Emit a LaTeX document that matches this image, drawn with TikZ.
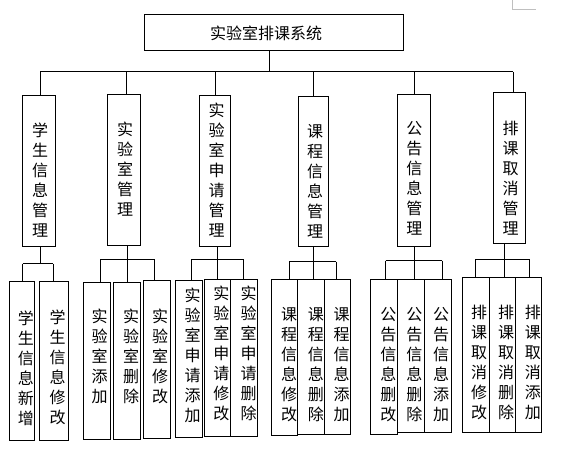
\documentclass[tikz,border=0pt]{standalone}
\usepackage{fontspec}
\newfontfamily\cjk{Noto Sans CJK SC}
\usetikzlibrary{fit}
\tikzset{
  box/.style={draw=black, line width=1pt, inner sep=0pt, fill=white},
  vt/.style={align=center, inner sep=0pt, font=\cjk\fontsize{16}{20}\selectfont},
  ln/.style={draw=black, line width=1pt},
}
\begin{document}
\begin{tikzpicture}[x=1pt,y=-1pt]
\useasboundingbox (0,0) rectangle (562,454);
\fill[white] (0,0) rectangle (562,454);
% page corner mark
\draw[black!25, line width=0.8pt] (512.3,0) -- (512.3,9) -- (535.7,9);

% root
\node[box, fit={(144.3,14.3)(403.3,50.3)}] (root) {};
\node[vt] (troot) at (266,33) {实验室排课系统};

% level 2 boxes
\node[box, fit={(22.3,95.7)(55.3,247)}] (b1) {};
\node[box, fit={(107.3,94.3)(140.3,245.3)}] (b2) {};
\node[box, fit={(199.3,95.7)(230.3,246.3)}] (b3) {};
\node[box, fit={(298.3,96.7)(328.3,246.7)}] (b4) {};
\node[box, fit={(397.3,94.3)(430.3,246.7)}] (b5) {};
\node[box, fit={(493.3,92.3)(525.3,243.3)}] (b6) {};
\node[vt] (tb1) at (40,180) {学\\生\\信\\息\\管\\理};
\node[vt] (tb2) at (125,169.5) {实\\验\\室\\管\\理};
\node[vt] (tb3) at (216.5,170) {实\\验\\室\\申\\请\\管\\理};
\node[vt] (tb4) at (315,181) {课\\程\\信\\息\\管\\理};
\node[vt] (tb5) at (414.3,178) {公\\告\\信\\息\\管\\理};
\node[vt] (tb6) at (510.5,178) {排\\课\\取\\消\\管\\理};

% level 1 connectors
\coordinate (j0) at (269.3,72);
\coordinate (busL) at (40.3,72);
\coordinate (busR) at (513.3,72);
\coordinate (d1) at (40.3,72);
\coordinate (d2) at (126.3,72);
\coordinate (d3) at (215.3,72);
\coordinate (d4) at (313.3,72);
\coordinate (d5) at (414.3,72);
\coordinate (d6) at (513.3,72);
\draw[ln] (root.south -| j0) -- (j0);
\draw[ln] (busL) -- (busR);
\foreach \i in {1,...,6} {\draw[ln] (d\i) -- (d\i |- b\i.north);}

% level 3 boxes
\node[box, fit={(9.3,281.7)(34.3,440)}] (c11) {};
\node[box, fit={(39.3,281.7)(68.3,440)}] (c12) {};
\node[box, fit={(83.3,282.7)(110.3,439)}] (c21) {};
\node[box, fit={(113.3,282.7)(140.3,439)}] (c22) {};
\node[box, fit={(143.3,280.7)(170.3,438.3)}] (c23) {};
\node[box, fit={(175.3,280.7)(202.3,437.3)}] (c31) {};
\node[box, fit={(204.3,279.3)(230.7,436)}] (c32) {};
\node[box, fit={(230.7,279.3)(257.3,436)}] (c33) {};
\node[box, fit={(271.7,279.3)(297.3,435)}] (c41) {};
\node[box, fit={(297.3,279.3)(324.3,434)}] (c42) {};
\node[box, fit={(324.3,279.3)(350.3,434)}] (c43) {};
\node[box, fit={(370.7,279.3)(397.3,434)}] (c51) {};
\node[box, fit={(397.3,279.3)(424.3,432.7)}] (c52) {};
\node[box, fit={(424.3,279.3)(451.3,432.3)}] (c53) {};
\node[box, fit={(462.7,277.3)(489.3,432.3)}] (c61) {};
\node[box, fit={(489.3,277.3)(515.7,432.3)}] (c62) {};
\node[box, fit={(515.7,277.3)(541.7,432.3)}] (c63) {};

\node[vt] (tc11) at (25.8,368) {学\\生\\信\\息\\新\\增};
\node[vt] (tc12) at (57.5,367) {学\\生\\信\\息\\修\\改};
\node[vt] (tc21) at (99.5,356.7) {实\\验\\室\\添\\加};
\node[vt] (tc22) at (131,356.7) {实\\验\\室\\删\\除};
\node[vt] (tc23) at (160,356.7) {实\\验\\室\\修\\改};
\node[vt] (tc31) at (192.5,355) {实\\验\\室\\申\\请\\添\\加};
\node[vt] (tc32) at (221.3,353.3) {实\\验\\室\\申\\请\\修\\改};
\node[vt] (tc33) at (248.5,353.3) {实\\验\\室\\申\\请\\删\\除};
\node[vt] (tc41) at (289.2,364.5) {课\\程\\信\\息\\修\\改};
\node[vt] (tc42) at (315.8,364.5) {课\\程\\信\\息\\删\\除};
\node[vt] (tc43) at (341.7,364.5) {课\\程\\信\\息\\添\\加};
\node[vt] (tc51) at (388.3,364.5) {公\\告\\信\\息\\删\\改};
\node[vt] (tc52) at (414.3,364.5) {公\\告\\信\\息\\删\\除};
\node[vt] (tc53) at (441.2,364.5) {公\\告\\信\\息\\添\\加};
\node[vt] (tc61) at (479.2,362.5) {排\\课\\取\\消\\修\\改};
\node[vt] (tc62) at (506.2,362.5) {排\\课\\取\\消\\删\\除};
\node[vt] (tc63) at (532.8,362.5) {排\\课\\取\\消\\添\\加};

% level 2 connectors
% group 1
\coordinate (p1) at (40,264);
\coordinate (g1L) at (22.7,264);
\coordinate (g1R) at (53.3,264);
\draw[ln] (b1.south -| p1) -- (p1);
\draw[ln] (g1L) -- (g1R);
\draw[ln] (g1L) -- (g1L |- c11.north);
\draw[ln] (g1R) -- (g1R |- c12.north);
% group 2
\coordinate (p2) at (127,259.3);
\coordinate (g2L) at (100.7,259.3);
\coordinate (g2R) at (154.3,259.3);
\draw[ln] (b2.south -| p2) -- (p2 |- c22.north);
\draw[ln] (g2L) -- (g2R);
\draw[ln] (g2L) -- (g2L |- c21.north);
\draw[ln] (g2R) -- (g2R |- c23.north);
% group 3
\coordinate (p3) at (217.7,259.3);
\coordinate (g3L) at (191.7,259.3);
\coordinate (g3R) at (243.3,259.3);
\draw[ln] (b3.south -| p3) -- (p3 |- c32.north);
\draw[ln] (g3L) -- (g3R);
\draw[ln] (g3L) -- (g3L |- c31.north);
\draw[ln] (g3R) -- (g3R |- c33.north);
% group 4
\coordinate (p4) at (313.3,261.7);
\coordinate (g4L) at (289.3,261.7);
\coordinate (g4R) at (336.3,261.7);
\draw[ln] (b4.south -| p4) -- (p4 |- c42.north);
\draw[ln] (g4L) -- (g4R);
\draw[ln] (g4L) -- (g4L |- c41.north);
\draw[ln] (g4R) -- (g4R |- c43.north);
% group 5
\coordinate (p5) at (414.3,260.7);
\coordinate (g5L) at (385.7,260.7);
\coordinate (g5R) at (442.3,260.7);
\draw[ln] (b5.south -| p5) -- (p5 |- c52.north);
\draw[ln] (g5L) -- (g5R);
\draw[ln] (g5L) -- (g5L |- c51.north);
\draw[ln] (g5R) -- (g5R |- c53.north);
% group 6
\coordinate (p6) at (504.3,259.3);
\coordinate (g6L) at (475,259.3);
\coordinate (g6R) at (529.3,259.3);
\draw[ln] (b6.south -| p6) -- (p6 |- c62.north);
\draw[ln] (g6L) -- (g6R);
\draw[ln] (g6L) -- (g6L |- c61.north);
\draw[ln] (g6R) -- (g6R |- c63.north);
\end{tikzpicture}
\end{document}
